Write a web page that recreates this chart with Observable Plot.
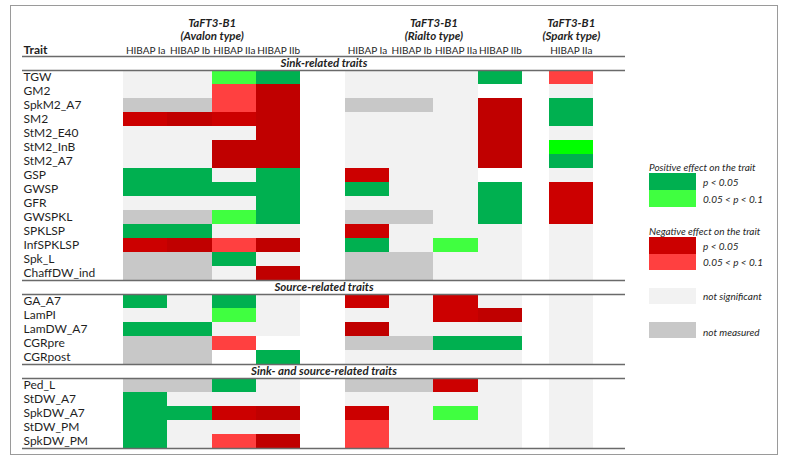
<!DOCTYPE html>
<html>
<head>
<meta charset="utf-8">
<script src="https://cdn.jsdelivr.net/npm/d3@7"></script>
<script src="https://cdn.jsdelivr.net/npm/@observablehq/plot@0.6"></script>
<style>
  body { margin: 0; background: #fff; }
  #wrap { position: relative; width: 789px; height: 462px; font-family: Lato, "Liberation Sans", sans-serif; color: #1f1f1f; overflow: hidden; }
  #frame { position: absolute; left: 10px; top: 5px; width: 766px; height: 448px; border: 1.5px solid #9a9a9a; pointer-events: none; }
  #chart { position: absolute; left: 0; top: 0; }
  .lg { position: absolute; font-style: italic; font-size: 10px; line-height: 12px; white-space: nowrap; color: #262626; }
  .sw { position: absolute; width: 47px; }
</style>
</head>
<body>
<div id="wrap"><div id="chart"></div><div id="frame"></div></div>
<script>
// ---------- data ----------
const gene = "TaFT3-B1";
const groupTypes = ["(Avalon type)", "(Rialto type)", "(Spark type)"];
const avalonColumns = ["HIBAP Ia", "HIBAP Ib", "HIBAP IIa", "HIBAP IIb"];
const rialtoColumns = ["HIBAP Ia", "HIBAP Ib", "HIBAP IIa", "HIBAP IIb"];
const sparkColumns  = ["HIBAP IIa"];

const sectionTitles = ["Sink-related traits", "Source-related traits", "Sink- and source-related traits"];

const sinkTraits = ["TGW", "GM2", "SpkM2_A7", "SM2", "StM2_E40", "StM2_InB", "StM2_A7", "GSP", "GWSP", "GFR", "GWSPKL", "SPKLSP", "InfSPKLSP", "Spk_L", "ChaffDW_ind"];
const sourceTraits = ["GA_A7", "LamPI", "LamDW_A7", "CGRpre", "CGRpost"];
const bothTraits = ["Ped_L", "StDW_A7", "SpkDW_A7", "StDW_PM", "SpkDW_PM"];

// one code per column: Avalon Ia Ib IIa IIb | Rialto Ia Ib IIa IIb | Spark IIa
// G positive p<0.05, g positive 0.05<p<0.1, b positive (bright shade), R/D negative p<0.05 (two shades),
// r negative 0.05<p<0.1, n not significant, m not measured, . empty
const sinkEffects = [
  "nngGnnnGr",
  "nnrDnnn.n",
  "mmrDmmnDG",
  "RDRDnnnDG",
  "nnnDnnnDn",
  "nnDDnnnDb",
  "nnDDnnnDG",
  "GGnGRnn.n",
  "GGGGGnnGR",
  "nnnGnnnGR",
  "mmgGmmnGR",
  "GGnnRnnnn",
  "RDrDGngnn",
  "mmGnmmnnn",
  "mmnDmmnnn"
];
const sourceEffects = [
  "GnGnRnRnn",
  "nngnnnRDn",
  "GGnnDnnnn",
  "mmr.mmGGn",
  "mm.Gnnnnn"
];
const bothEffects = [
  "mmGnmmRnn",
  "Gnnnnnnnn",
  "GGRDRngnn",
  "Gnnnrnnnn",
  "GnrDrnnnn"
];

const effectCodes = ["G", "g", "b", "R", "D", "r", "n", "m"];
const legendHeads = ["Positive effect on the trait", "Negative effect on the trait"];
const legendLabels = ["p < 0.05", "0.05  < p < 0.1", "p < 0.05", "0.05  < p < 0.1", "not significant", "not measured"];

// ---------- styles ----------
const effectColors = ["#00B050", "#40FF40", "#00FF00", "#CC0000", "#C00000", "#FF4040", "#F2F2F2", "#C8C8C8"];
const colorOf = Object.fromEntries(effectCodes.map((c, i) => [c, effectColors[i]]));
const groupGap = [1.0, 0.6];

// ---------- layout derived from data ----------
const groups = [avalonColumns, rialtoColumns, sparkColumns];
const columns = [];
const groupInfo = [];
let pos = 0, k = 0;
groups.forEach((labels, gi) => {
  const start = pos;
  labels.forEach((label) => { columns.push({ label, x1: pos, x2: pos + 1, k: k++ }); pos += 1; });
  groupInfo.push({ gene, type: groupTypes[gi], xc: (start + pos) / 2 });
  if (gi < groupGap.length) pos += groupGap[gi];
});
const totalCols = pos;

const sections = [
  { title: sectionTitles[0], traits: sinkTraits, effects: sinkEffects },
  { title: sectionTitles[1], traits: sourceTraits, effects: sourceEffects },
  { title: sectionTitles[2], traits: bothTraits, effects: bothEffects }
];
const secRows = [], traitRows = [], cells = [], rules = [];
let r = 0;
sections.forEach((s) => {
  rules.push(r);
  secRows.push({ title: s.title, r });
  r += 1;
  rules.push(r);
  s.traits.forEach((t, ti) => {
    traitRows.push({ trait: t, r });
    const e = s.effects[ti];
    columns.forEach((c) => {
      const code = e[c.k];
      if (code !== ".") cells.push({ x1: c.x1, x2: c.x2, y1: r, y2: r + 1, code });
    });
    r += 1;
  });
});
rules.push(r);
const totalRows = r;

const font = "Lato, 'Liberation Sans', sans-serif";
const ink = "#1f1f1f";

const plot = Plot.plot({
  width: 789,
  height: 462,
  marginLeft: 22,
  marginRight: 164,
  marginTop: 0,
  marginBottom: 0,
  x: { type: "linear", domain: [0, totalCols], range: [123, 593], axis: null },
  y: { type: "linear", domain: [0, totalRows], range: [56, 448], axis: null },
  color: { type: "ordinal", domain: effectCodes, range: effectColors },
  style: { fontFamily: font, color: ink, background: "transparent" },
  marks: [
    Plot.rect(cells, { x1: "x1", x2: "x2", y1: "y1", y2: "y2", fill: "code", shapeRendering: "crispEdges" }),
    Plot.ruleY(rules, { y: (d) => d, stroke: "#6a6a6a", strokeWidth: 1.3 }),
    Plot.text(traitRows, { y: (d) => d.r + 0.5, text: "trait", frameAnchor: "left", textAnchor: "start", lineAnchor: "middle", dx: 1, fontSize: 12, fill: ink }),
    Plot.text(secRows, { y: (d) => d.r + 0.5, text: "title", frameAnchor: "middle", lineAnchor: "middle", fontSize: 11.5, fontWeight: "bold", fontStyle: "italic", fill: ink }),
    Plot.text(columns, { x: (d) => (d.x1 + d.x2) / 2, text: "label", frameAnchor: "top", lineAnchor: "middle", dy: 50, fontSize: 10, fill: ink }),
    Plot.text(groupInfo, { x: "xc", text: "gene", frameAnchor: "top", lineAnchor: "middle", dy: 22.5, fontSize: 11.5, fontWeight: "bold", fontStyle: "italic", fill: ink }),
    Plot.text(groupInfo, { x: "xc", text: "type", frameAnchor: "top", lineAnchor: "middle", dy: 35.5, fontSize: 11.5, fontWeight: "bold", fontStyle: "italic", fill: ink }),
    Plot.text(["Trait"], { text: (d) => d, frameAnchor: "top-left", dy: 50, dx: 1, lineAnchor: "middle", textAnchor: "start", fontSize: 12, fontWeight: "bold", fill: ink })
  ]
});
document.getElementById("chart").appendChild(plot);

// ---------- legend (HTML) ----------
const wrap = document.getElementById("wrap");
function addText(txt, left, centerY) {
  const d = document.createElement("div");
  d.className = "lg"; d.textContent = txt;
  d.style.left = left + "px"; d.style.top = (centerY - 6) + "px";
  wrap.appendChild(d);
}
function addSwatch(code, top, h) {
  const d = document.createElement("div");
  d.className = "sw"; d.style.left = "649px"; d.style.top = top + "px"; d.style.height = h + "px";
  d.style.background = colorOf[code];
  wrap.appendChild(d);
}
addText(legendHeads[0], 649, 166.5);
addSwatch("G", 173, 17); addSwatch("g", 190, 17);
addText(legendLabels[0], 703, 182); addText(legendLabels[1], 703, 199);
addText(legendHeads[1], 649, 231);
addSwatch("R", 237, 16.5); addSwatch("r", 253.5, 16.5);
addText(legendLabels[2], 703, 246); addText(legendLabels[3], 703, 262);
addSwatch("n", 287.5, 16.5); addText(legendLabels[4], 703, 296);
addSwatch("m", 321.5, 16.5); addText(legendLabels[5], 703, 332);
</script>
</body>
</html>
